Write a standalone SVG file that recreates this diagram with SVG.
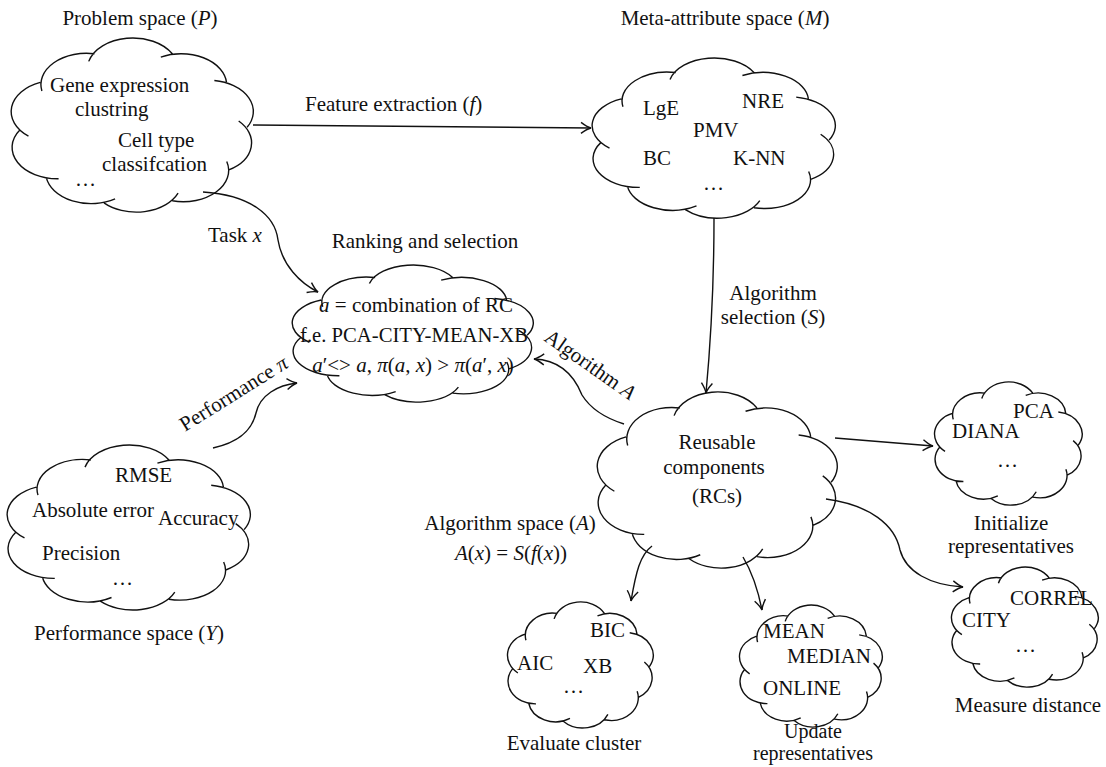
<svg xmlns="http://www.w3.org/2000/svg" xmlns:xlink="http://www.w3.org/1999/xlink" width="1106" height="767" viewBox="0 0 1106 767">
<style>
text { font-family: "Liberation Serif", "Times New Roman", serif; font-size: 21px; fill: #111; }
.it { font-style: italic; }
.mid { text-anchor: middle; }
.sm { font-size: 20px; }
.cloud { fill: none; stroke: #111; stroke-width: 1.4; vector-effect: non-scaling-stroke; }
.conn { fill: none; stroke: #111; stroke-width: 1.4; marker-end: url(#arr); }
</style>
<defs>
<marker id="arr" markerUnits="userSpaceOnUse" markerWidth="14" markerHeight="14" viewBox="-12 -7 14 14" refX="0" refY="0" orient="auto" overflow="visible">
<path d="M-10,-5.5 C-6,-2.5 -2.5,-0.6 0,0 C-2.5,0.6 -6,2.5 -10,5.5" fill="none" stroke="#111" stroke-width="1.4"/>
</marker>
<path id="cloud" class="cloud" vector-effect="non-scaling-stroke" d="M92.6,-8.1 A40,40 0 0 1 83.9,54.5 M82.1,43.7 A40,40 0 0 1 34.2,94 M39.3,84.3 A40,40 0 0 1 -25.9,96.6 M-16.1,91.6 A40,40 0 0 1 -76.6,64.3 M-65.8,65.8 A40,40 0 0 1 -99.9,3.5 M-92.3,11.3 A40,40 0 0 1 -81.9,-57.4 M-80.5,-46.5 A40,40 0 0 1 -34.2,-94 M-39.3,-84.3 A40,40 0 0 1 34.2,-94 M24.1,-89.8 A40,40 0 0 1 81.9,-57.4 M71.2,-59.8 A40,40 0 0 1 100,0"/>
</defs>
<rect width="1106" height="767" fill="#fff"/>

<g id="connectors">
<path class="conn" d="M253,125 L591,128"/>
<path class="conn" d="M203,192 C250,195 275,215 278,240 C282,265 300,283 318,292"/>
<path class="conn" d="M213,448 C240,442 252,430 256,413 C260,395 278,385 297,383"/>
<path class="conn" d="M624,424 C605,418 590,408 582,395 C574,375 560,360 534,359"/>
<path class="conn" d="M714,218 C714,300 710,350 706,393"/>
<path class="conn" d="M835,438 L933,446"/>
<path class="conn" d="M652,546 C640,555 636,572 631,601"/>
<path class="conn" d="M743,557 C752,572 758,590 762,610"/>
<path class="conn" d="M826,499 C870,505 895,525 900,550 C906,572 930,585 963,587"/>
</g>

<g id="connector-labels">
<text x="305" y="111">Feature extraction (<tspan class="it">f</tspan>)</text>
<text x="208" y="242">Task <tspan class="it">x</tspan></text>
<text transform="translate(185,432) rotate(-32)">Performance <tspan class="it">π</tspan></text>
<text transform="translate(543,340) rotate(35)">Algorithm <tspan class="it">A</tspan></text>
<text class="mid" x="773" y="300">Algorithm</text>
<text class="mid" x="773" y="324">selection (<tspan class="it">S</tspan>)</text>
</g>

<g id="problem-space">
<text class="mid" x="140" y="25">Problem space (<tspan class="it">P</tspan>)</text>
<use xlink:href="#cloud" href="#cloud" transform="translate(133.4,127.3) scale(1.137,0.782)"/>
<text x="50" y="92">Gene expression</text>
<text x="75" y="116">clustring</text>
<text x="118" y="147">Cell type</text>
<text x="102" y="171">classifcation</text>
<text x="75" y="186">…</text>
</g>

<g id="meta-attribute-space">
<text class="mid" x="725" y="25">Meta-attribute space (<tspan class="it">M</tspan>)</text>
<use xlink:href="#cloud" href="#cloud" transform="translate(714.9,140.1) scale(1.142,0.719)"/>
<text x="643" y="115">LgE</text>
<text x="742" y="108">NRE</text>
<text x="693" y="137">PMV</text>
<text x="643" y="165">BC</text>
<text x="733" y="165">K-NN</text>
<text x="703" y="190">…</text>
</g>

<g id="ranking-selection">
<text class="mid" x="425" y="248">Ranking and selection</text>
<use xlink:href="#cloud" href="#cloud" transform="translate(413.9,335.3) scale(1.132,0.615)"/>
<text class="mid" x="416" y="312"><tspan class="it">a</tspan> = combination of RC</text>
<text class="mid" x="414" y="342" textLength="228" lengthAdjust="spacingAndGlyphs">f.e. PCA-CITY-MEAN-XB</text>
<text class="mid" x="413" y="372"><tspan class="it">a</tspan>′&lt;&gt; <tspan class="it">a</tspan>, <tspan class="it">π</tspan>(<tspan class="it">a</tspan>, <tspan class="it">x</tspan>) &gt; <tspan class="it">π</tspan>(<tspan class="it">a</tspan>′, <tspan class="it">x</tspan>)</text>
</g>

<g id="performance-space">
<use xlink:href="#cloud" href="#cloud" transform="translate(129.9,529.6) scale(1.142,0.741)"/>
<text x="115" y="482">RMSE</text>
<text x="32" y="517">Absolute error</text>
<text x="158" y="525">Accuracy</text>
<text x="42" y="560">Precision</text>
<text x="112" y="585">…</text>
<text class="mid" x="129" y="640">Performance space (<tspan class="it">Y</tspan>)</text>
</g>

<g id="algorithm-space">
<text class="mid" x="510" y="530">Algorithm space (<tspan class="it">A</tspan>)</text>
<text class="mid" x="511" y="560"><tspan class="it">A</tspan>(<tspan class="it">x</tspan>) = <tspan class="it">S</tspan>(<tspan class="it">f</tspan>(<tspan class="it">x</tspan>))</text>
</g>

<g id="reusable-components">
<use xlink:href="#cloud" href="#cloud" transform="translate(718.4,482.3) scale(1.127,0.791)"/>
<text class="mid" x="717" y="449">Reusable</text>
<text class="mid" x="714" y="474">components</text>
<text class="mid" x="717" y="503">(RCs)</text>
</g>

<g id="initialize-representatives">
<use xlink:href="#cloud" href="#cloud" transform="translate(1009,445.1) scale(0.693,0.553)"/>
<text x="1013" y="418">PCA</text>
<text x="952" y="438">DIANA</text>
<text x="997" y="467">…</text>
<text class="mid" x="1011" y="530">Initialize</text>
<text class="mid" x="1011" y="553">representatives</text>
</g>

<g id="evaluate-cluster">
<use xlink:href="#cloud" href="#cloud" transform="translate(581,666.6) scale(0.684,0.566)"/>
<text x="590" y="637">BIC</text>
<text x="517" y="670">AIC</text>
<text x="583" y="673">XB</text>
<text x="563" y="693">…</text>
<text class="mid" x="574" y="750">Evaluate cluster</text>
</g>

<g id="update-representatives">
<use xlink:href="#cloud" href="#cloud" transform="translate(811.5,667.6) scale(0.670,0.548)"/>
<text x="763" y="638">MEAN</text>
<text x="787" y="663">MEDIAN</text>
<text x="763" y="695">ONLINE</text>
<text class="mid sm" x="813" y="738">Update</text>
<text class="mid sm" x="813" y="760">representatives</text>
</g>

<g id="measure-distance">
<use xlink:href="#cloud" href="#cloud" transform="translate(1025.5,628.6) scale(0.689,0.539)"/>
<text x="1010" y="605">CORREL</text>
<text x="962" y="627">CITY</text>
<text x="1015" y="652">…</text>
<text class="mid" x="1028" y="712">Measure distance</text>
</g>
</svg>
